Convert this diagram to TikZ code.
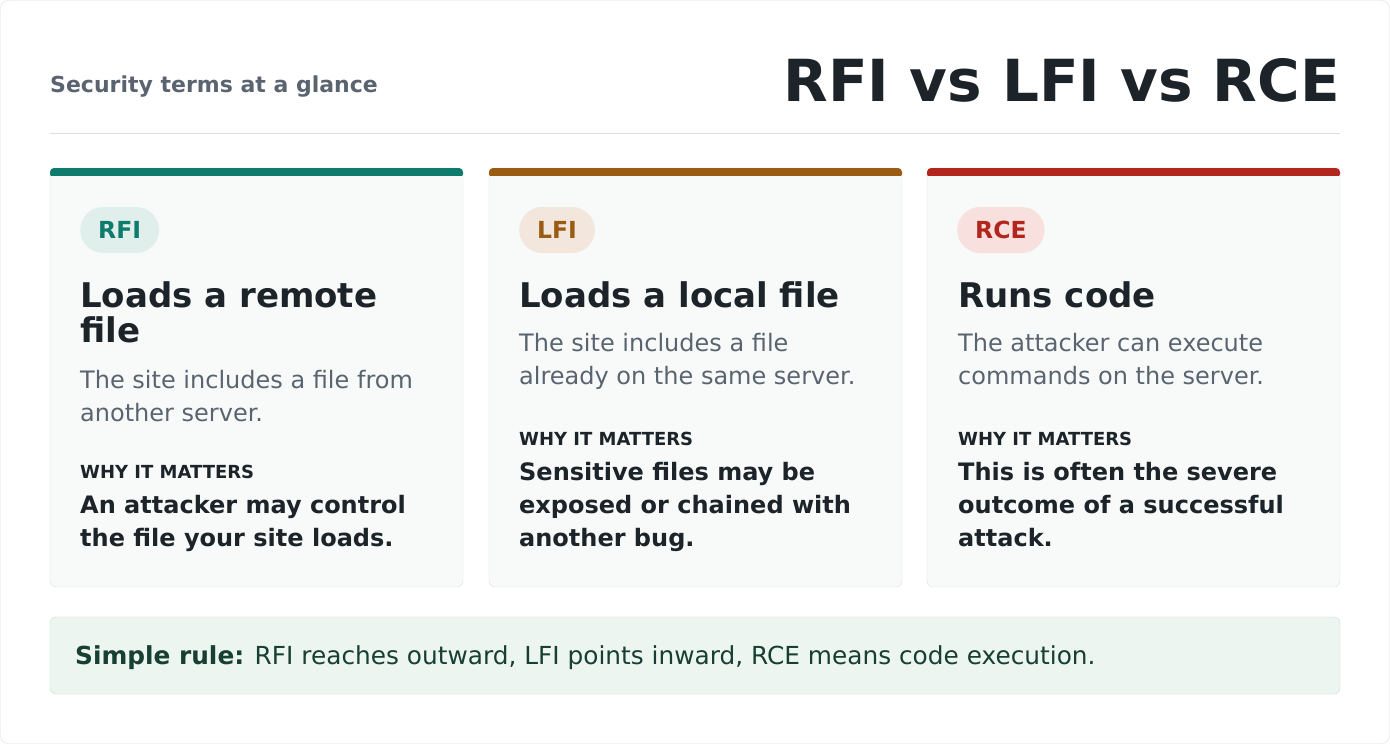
\documentclass[tikz,border=0pt]{standalone}
\usepackage{fontspec}
\setmainfont{DejaVu Sans}
\definecolor{teal}{HTML}{0F7B6C}\definecolor{brn}{HTML}{9A5B13}\definecolor{rd}{HTML}{B3261E}
\definecolor{tealL}{HTML}{E0EEEC}\definecolor{brnL}{HTML}{F3E6DC}\definecolor{rdL}{HTML}{F8E0DE}
\definecolor{dark}{HTML}{1C2329}\definecolor{gry}{HTML}{5A6470}\definecolor{bd}{HTML}{DCDFE0}
\definecolor{cardf}{HTML}{F8FAF9}\definecolor{notef}{HTML}{EDF5F0}\definecolor{noteb}{HTML}{C9DCD1}\definecolor{notet}{HTML}{173F33}
\begin{document}
\begin{tikzpicture}[x=1pt,y=-1pt,
 tx/.style={anchor=base west,inner sep=0pt},
 head/.style={tx,font=\fontsize{34}{36}\selectfont\bfseries,text=dark},
 body/.style={tx,font=\fontsize{24}{33}\selectfont,text=gry},
 why/.style={tx,font=\fontsize{18}{20}\selectfont\bfseries,text=dark},
 strong/.style={tx,font=\fontsize{24}{33}\selectfont\bfseries,text=dark},
 pill/.style={rounded corners=23pt,minimum height=46pt,inner xsep=18pt,font=\fontsize{23.5}{24}\selectfont\bfseries}]
\useasboundingbox (0,0) rectangle (1390,744);
\draw[bd,fill=white,rounded corners=8pt] (0.5,0.5) rectangle (1389.5,743.5);
\node[tx,font=\fontsize{22}{24}\selectfont\bfseries,text=gry] (sub) at (50,92) {Security terms at a glance};
\node[anchor=base east,inner sep=0pt,font=\fontsize{58}{64}\selectfont\bfseries,text=dark] (title) at (1340,101) {RFI vs LFI vs RCE};
\draw[bd] (50,133) -- (1340,133);
\foreach \x/\c/\cl/\t in {50/teal/tealL/RFI,489/brn/brnL/LFI,927/rd/rdL/RCE}{
 \draw[bd,fill=cardf,rounded corners=6pt] (\x,168) rectangle (\x+413,587);
 \fill[\c,rounded corners=4pt] (\x,168) rectangle (\x+413,178);
 \fill[cardf] (\x+0.5,176) rectangle (\x+412.5,180);
 \node[pill,fill=\cl,text=\c,anchor=west] (p\t) at (\x+30,230) {\t};
}
\node[head] (h1) at (80,307) {Loads a remote};
\node[head] (h1b) at (80,342) {file};
\node[body] (b1) at (80,388) {The site includes a file from};
\node[body] (b1b) at (80,421) {another server.};
\node[why] (w1) at (80,478) {WHY IT MATTERS};
\node[strong] (s1) at (80,513) {An attacker may control};
\node[strong] (s1b) at (80,546) {the file your site loads.};
\node[head] (h2) at (519,307) {Loads a local file};
\node[body] (b2) at (519,351) {The site includes a file};
\node[body] (b2b) at (519,384) {already on the same server.};
\node[why] (w2) at (519,445) {WHY IT MATTERS};
\node[strong] (s2) at (519,480) {Sensitive files may be};
\node[strong] (s2b) at (519,513) {exposed or chained with};
\node[strong] (s2c) at (519,546) {another bug.};
\node[head] (h3) at (958,307) {Runs code};
\node[body] (b3) at (958,351) {The attacker can execute};
\node[body] (b3b) at (958,384) {commands on the server.};
\node[why] (w3) at (958,445) {WHY IT MATTERS};
\node[strong] (s3) at (958,480) {This is often the severe};
\node[strong] (s3b) at (958,513) {outcome of a successful};
\node[strong] (s3c) at (958,546) {attack.};
\draw[noteb,fill=notef,rounded corners=6pt] (50,617) rectangle (1340,694);
\node[tx,font=\fontsize{24.8}{26}\selectfont,text=notet] (note) at (75,664) {\textbf{Simple rule:} RFI reaches outward, LFI points inward, RCE means code execution.};
\end{tikzpicture}
\end{document}
